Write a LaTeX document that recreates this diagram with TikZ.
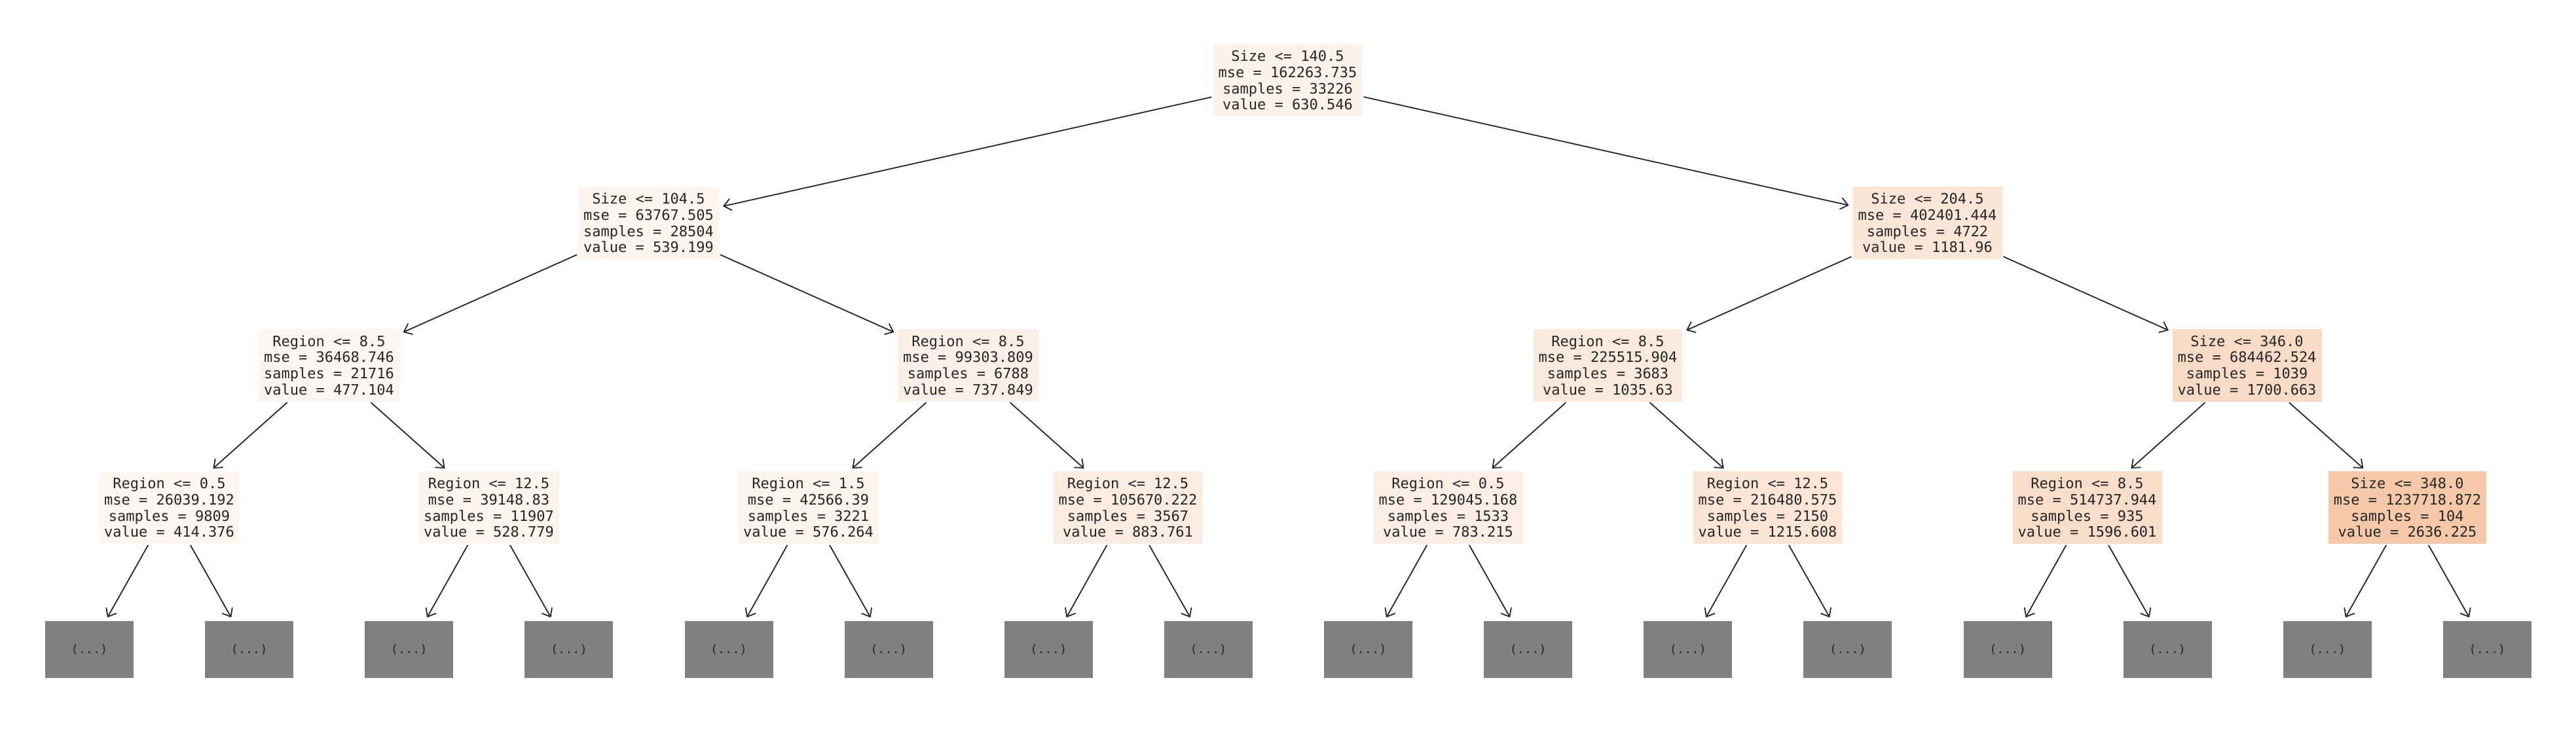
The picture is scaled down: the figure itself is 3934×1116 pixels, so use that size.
\documentclass[tikz,border=0pt]{standalone}
\usepackage{fontspec}
\setmonofont{DejaVu Sans Mono}
\usetikzlibrary{arrows.meta}
\definecolor{skorange}{RGB}{229,129,57}
\definecolor{leafgray}{RGB}{128,128,128}
\definecolor{inkc}{RGB}{38,38,38}
\tikzset{
  tnode/.style={rectangle, fill=skorange!#1!white, text=inkc, inner xsep=8pt, inner ysep=0pt,
    minimum height=111pt, align=center, font=\ttfamily\fontsize{22}{24.7}\selectfont},
  leafbox/.style={rectangle, fill=leafgray, text=inkc, minimum width=135pt, minimum height=87pt,
    inner sep=0pt, font=\ttfamily\fontsize{18.5}{20}\selectfont},
  edge/.style={draw=inkc, line width=1.8pt, -{Straight Barb[length=11pt,width=18pt,line width=1.8pt]},
    shorten <=2pt, shorten >=6pt}
}
\begin{document}
\begin{tikzpicture}[x=1pt,y=-1pt]
\useasboundingbox (0,0) rectangle (3934,1116);
% root
\node[tnode=10.5] (r) at (1966.5,122.5) {Size <= 140.5\\mse = 162263.735\\samples = 33226\\value = 630.546};
% level 1
\node[tnode=9] (a) at (990.5,340.5) {Size <= 104.5\\mse = 63767.505\\samples = 28504\\value = 539.199};
\node[tnode=19.7] (b) at (2943.5,340.5) {Size <= 204.5\\mse = 402401.444\\samples = 4722\\value = 1181.96};
% level 2
\node[tnode=8] (aa) at (502.5,558) {Region <= 8.5\\mse = 36468.746\\samples = 21716\\value = 477.104};
\node[tnode=12.3] (ab) at (1478.5,558) {Region <= 8.5\\mse = 99303.809\\samples = 6788\\value = 737.849};
\node[tnode=17.3] (ba) at (2455.5,558) {Region <= 8.5\\mse = 225515.904\\samples = 3683\\value = 1035.63};
\node[tnode=28.3] (bb) at (3431.5,558) {Size <= 346.0\\mse = 684462.524\\samples = 1039\\value = 1700.663};
% level 3
\node[tnode=6.9] (aaa) at (258.5,775.5) {Region <= 0.5\\mse = 26039.192\\samples = 9809\\value = 414.376};
\node[tnode=8.8] (aab) at (746.5,775.5) {Region <= 12.5\\mse = 39148.83\\samples = 11907\\value = 528.779};
\node[tnode=9.6] (aba) at (1234.5,775.5) {Region <= 1.5\\mse = 42566.39\\samples = 3221\\value = 576.264};
\node[tnode=14.7] (abb) at (1722.5,775.5) {Region <= 12.5\\mse = 105670.222\\samples = 3567\\value = 883.761};
\node[tnode=13.1] (baa) at (2211.5,775.5) {Region <= 0.5\\mse = 129045.168\\samples = 1533\\value = 783.215};
\node[tnode=20.3] (bab) at (2699.5,775.5) {Region <= 12.5\\mse = 216480.575\\samples = 2150\\value = 1215.608};
\node[tnode=26.6] (bba) at (3187.5,775.5) {Region <= 8.5\\mse = 514737.944\\samples = 935\\value = 1596.601};
\node[tnode=43.9] (bbb) at (3676.5,775.5) {Size <= 348.0\\mse = 1237718.872\\samples = 104\\value = 2636.225};
% leaves
\foreach \p [count=\i from 0] in {aaa,aab,aba,abb,baa,bab,bba,bbb}{
  \node[leafbox] (\p l) at ({136.5+488.26*\i},992.5) {(...)};
  \node[leafbox] (\p r) at ({136.5+488.26*\i+244.13},992.5) {(...)};
  \draw[edge] (\p) -- (\p l);
  \draw[edge] (\p) -- (\p r);
}
\draw[edge] (r) -- (a);
\draw[edge] (r) -- (b);
\draw[edge] (a) -- (aa);
\draw[edge] (a) -- (ab);
\draw[edge] (b) -- (ba);
\draw[edge] (b) -- (bb);
\draw[edge] (aa) -- (aaa);
\draw[edge] (aa) -- (aab);
\draw[edge] (ab) -- (aba);
\draw[edge] (ab) -- (abb);
\draw[edge] (ba) -- (baa);
\draw[edge] (ba) -- (bab);
\draw[edge] (bb) -- (bba);
\draw[edge] (bb) -- (bbb);
\end{tikzpicture}
\end{document}
